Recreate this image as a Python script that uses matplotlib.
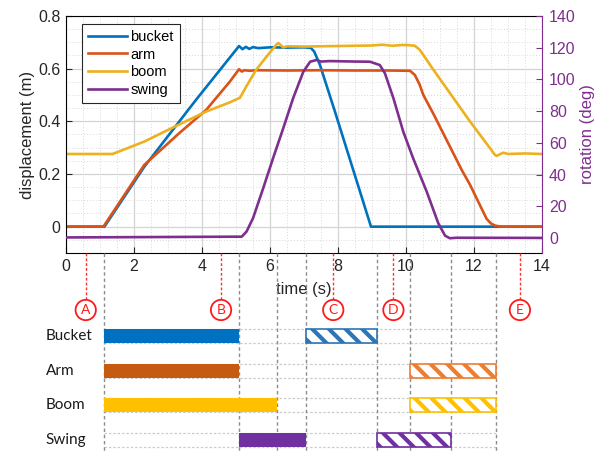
import numpy as np
import matplotlib
matplotlib.use('Agg')
import matplotlib.pyplot as plt
from matplotlib.ticker import MultipleLocator, FuncFormatter

# ---- curve data ----
t_bucket = [0, 1.13, 2.3, 3.82, 5.09, 5.19, 5.29, 5.39, 5.5, 5.65, 6.0, 6.5, 7.0, 7.2, 7.3, 7.47, 7.91, 8.97, 14]
bucket = [0, 0, 0.227, 0.481, 0.686, 0.674, 0.683, 0.675, 0.682, 0.678, 0.681, 0.680, 0.681, 0.679, 0.665, 0.614, 0.437, 0, 0]

t_arm = [0, 1.1, 2.3, 3.33, 4.12, 4.82, 5.09, 5.17, 5.25, 5.4, 5.6, 6.5, 7.5, 8.5, 9.5, 10.12, 10.26,
         10.4, 10.51, 10.8, 11.64, 11.88, 12.2, 12.37, 12.5, 12.62, 12.8, 14]
arm = [0, 0, 0.234, 0.355, 0.443, 0.551, 0.598, 0.589, 0.594, 0.592, 0.594, 0.593, 0.594, 0.593, 0.593, 0.592, 0.576,
       0.54, 0.50, 0.43, 0.215, 0.16, 0.075, 0.03, 0.012, 0.004, 0, 0]

t_boom = [0, 1.37, 2.3, 3.2, 4.12, 4.82, 5.12, 5.31, 5.59, 5.9, 6.2, 6.25, 6.39, 6.5, 7.0, 7.5, 8.0, 8.5, 9.0,
          9.3, 9.6, 9.9, 10.1, 10.26, 10.4, 10.51, 10.8, 11.88, 12.62, 12.67, 12.86, 13.0, 13.5, 14]
boom = [0.276, 0.276, 0.323, 0.38, 0.437, 0.472, 0.49, 0.534, 0.595, 0.646, 0.693, 0.697, 0.681, 0.685, 0.684, 0.685,
        0.686, 0.687, 0.688, 0.691, 0.687, 0.690, 0.689, 0.687, 0.672, 0.652, 0.597, 0.40, 0.272, 0.269, 0.281, 0.276,
        0.278, 0.276]

t_swing = [0, 5.17, 5.31, 5.5, 5.8, 6.09, 6.39, 6.68, 6.98, 7.18, 7.37, 7.5, 7.76, 8.5, 8.94, 9.23, 9.38, 9.63,
           9.92, 10.21, 10.61, 10.95, 11.15, 11.29, 11.49, 14]
swing = [0.5, 1, 4.2, 12.6, 31.5, 50.4, 69.3, 88.2, 104.9, 111.2, 112.3, 111.3, 111.6, 111.3, 111.2, 109.1, 103.9, 88.2,
         67.1, 50.4, 29.3, 9.4, 1.6, 0, 0.3, 0.2]

# ---- gantt data ----
rows = ['Bucket', 'Arm', 'Boom', 'Swing']
solid_start = [1.13, 1.13, 1.13, 5.09]
solid_end = [5.09, 5.09, 6.2, 7.06]
hatch_start = [7.06, 10.12, 10.12, 9.15]
hatch_end = [9.15, 12.65, 12.65, 11.32]
solid_colors = ['#0070C0', '#C55A11', '#FFC000', '#7030A0']
hatch_colors = ['#2E75B6', '#ED7D31', '#FFC000', '#7030A0']

marks = ['A', 'B', 'C', 'D', 'E']
mark_t = [0.58, 4.56, 7.86, 9.63, 13.35]

c_bucket, c_arm, c_boom, c_swing = '#0072BD', '#D95319', '#EDB120', '#7E2F8E'

plt.rcParams['font.family'] = 'Liberation Sans'
plt.rcParams['hatch.linewidth'] = 3.0

fig = plt.figure(figsize=(5.96, 4.57), dpi=100)
W, H = 596, 457
ax = fig.add_axes([66 / W, 1 - 253 / H, 476 / W, 237 / H])

l1, = ax.plot(t_bucket, bucket, color=c_bucket, lw=1.9, label='bucket')
l2, = ax.plot(t_arm, arm, color=c_arm, lw=1.9, label='arm')
l3, = ax.plot(t_boom, boom, color=c_boom, lw=1.9, label='boom')
ax.set_xlim(0, 14)
ax.set_ylim(-0.1, 0.8)
ax.xaxis.set_major_locator(MultipleLocator(2))
ax.xaxis.set_minor_locator(MultipleLocator(0.5))
ax.yaxis.set_major_locator(MultipleLocator(0.2))
ax.yaxis.set_minor_locator(MultipleLocator(0.05))
ax.yaxis.set_major_formatter(FuncFormatter(lambda v, p: '%g' % round(v, 2)))
ax.grid(which='major', color='#d4d4d4', lw=0.9)
ax.grid(which='minor', color='#d8d8d8', lw=0.7, ls=(0, (1, 2)))
ax.set_axisbelow(True)
ax.tick_params(which='both', direction='in', labelsize=11.5, colors='#262626', pad=4)
ax.tick_params(which='minor', length=0)
ax.tick_params(which='major', length=4)
ax.set_ylabel('displacement (m)', fontsize=12, color='#262626', labelpad=2)
ax.set_xlabel('time (s)', fontsize=12, color='#262626', labelpad=6)
ax.spines['right'].set_visible(False)

ax2 = ax.twinx()
l4, = ax2.plot(t_swing, swing, color=c_swing, lw=1.9, label='swing')
ax2.set_ylim(-9.3, 140)
ax2.yaxis.set_major_locator(MultipleLocator(20))
ax2.tick_params(direction='in', labelsize=11.5, colors=c_swing, length=4, pad=5)
ax2.set_ylabel('rotation (deg)', fontsize=12, color=c_swing, labelpad=3)
for s in ['left', 'top', 'bottom']:
    ax2.spines[s].set_visible(False)
ax2.spines['right'].set_color(c_swing)

leg = ax2.legend(handles=[l1, l2, l3, l4], loc='upper left', bbox_to_anchor=(0.034, 0.966),
                 borderaxespad=0, fontsize=10.5, handlelength=2.7, handletextpad=0.2,
                 labelspacing=0.25, fancybox=False, framealpha=1, borderpad=0.4)
leg.get_frame().set_edgecolor('#262626')
leg.get_frame().set_linewidth(0.8)

# ---- gantt panel below ----
row_px = 34.67
gx = fig.add_axes([66 / W, 0, 476 / W, (H - 253) / H])
gx.set_xlim(0, 14)
gx.set_ylim((457 - 336) / row_px, (253 - 336) / row_px)
gx.axis('off')
gx.patch.set_alpha(0)

bar_h = 0.41
y_pos = np.arange(len(rows))
gx.barh(y_pos, np.array(solid_end) - np.array(solid_start), left=solid_start, height=bar_h,
        color=solid_colors, zorder=3)
for i in range(len(rows)):
    gx.barh(y_pos[i], hatch_end[i] - hatch_start[i], left=hatch_start[i], height=bar_h,
            facecolor='white', edgecolor=hatch_colors[i], hatch='\\\\', lw=1.2, zorder=3)
    for dy in (-bar_h / 2, bar_h / 2):
        gx.plot([min(solid_start), max(hatch_end)], [y_pos[i] + dy] * 2, color='#cccccc',
                lw=0.9, ls=(0, (2, 1.5)), zorder=1)
    gx.text(-0.59, y_pos[i], rows[i], ha='left', va='center', fontsize=11, family='Lato',
            color='#1a1a1a', clip_on=False)

events = sorted(set(solid_start + solid_end + hatch_start + hatch_end))
y_top, y_bot = (253 - 336) / row_px, (453 - 336) / row_px
for e in events:
    gx.plot([e, e], [y_top, y_bot], color='#8c8c8c', lw=1.0, ls=(0, (2.5, 2)), zorder=2)

circle_y = (310 - 336) / row_px
for m, tm in zip(marks, mark_t):
    gx.plot([tm, tm], [y_top, circle_y - 0.29], color='#ff3030', lw=1.0, ls=(0, (2, 1.5)), zorder=2)
    gx.text(tm, circle_y, m, ha='center', va='center', fontsize=10, color='#ff1a1a', family='Lato',
            bbox=dict(boxstyle='circle,pad=0.3', fc='white', ec='#ff1a1a', lw=1.3), zorder=4)

fig.savefig('out.png', dpi=100)
